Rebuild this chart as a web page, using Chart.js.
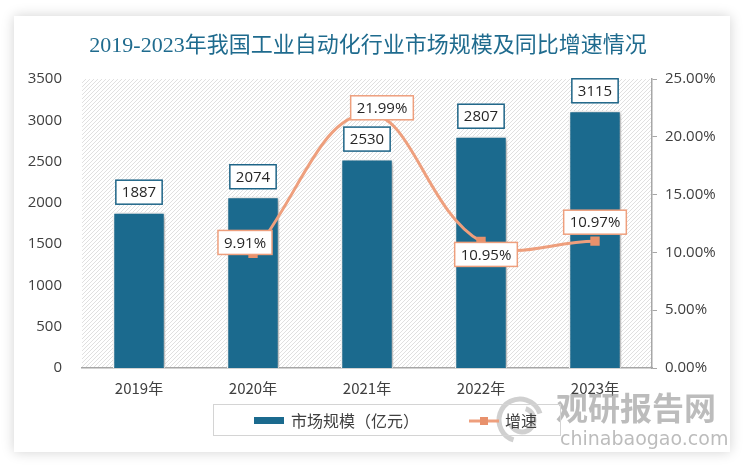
<!DOCTYPE html>
<html>
<head>
<meta charset="utf-8">
<script src="https://cdn.jsdelivr.net/npm/chart.js@4/dist/chart.umd.min.js"></script>
<style>
  html, body { margin: 0; padding: 0; background: #ffffff; }
  #wrap { width: 750px; height: 471px; }
</style>
</head>
<body>
<div id="wrap"><canvas id="c" width="750" height="471"></canvas></div>
<script>
// data
const years = ['2019年', '2020年', '2021年', '2022年', '2023年'];
const marketSize = [1887, 2074, 2530, 2807, 3115];
const growthRate = [null, 9.91, 21.99, 10.95, 10.97];
const leftTicks = [0, 500, 1000, 1500, 2000, 2500, 3000, 3500];
const rightTicks = [0, 5, 10, 15, 20, 25];

const colors = {
    bar: '#1b6a8e',
    barLabel: '#1d6487',
    line: '#ee9f7d',
    marker: '#e8916c',
    title: '#1f6b8e',
    text: '#404040',
    axis: '#a6a6a6',
    hatch: '#e0e0e0'
};

const tickFont = { family: '"Open Sans", "Noto Sans CJK SC", sans-serif', size: 15 };
const cjkFont = '"Noto Sans CJK SC", sans-serif';

// label offsets for the growth boxes (centre relative to point)
const lineLabelOffset = [null, [-8, -11], [15, -6], [5, 13], [0, -19]];

// card + title + hatched plot background + legend + watermark
const decorPlugin = {
    id: 'decor',
    beforeDraw(chart) {
        const ctx = chart.ctx;
        ctx.save();
        ctx.fillStyle = '#ffffff';
        ctx.fillRect(0, 0, chart.width, chart.height);
        ctx.shadowColor = 'rgba(0,0,0,0.18)';
        ctx.shadowBlur = 12;
        ctx.fillRect(14, 16, 716, 436);
        ctx.restore();

        ctx.save();
        ctx.fillStyle = colors.title;
        ctx.font = '22px "Liberation Serif", "Noto Sans CJK SC", serif';
        ctx.textAlign = 'center';
        ctx.textBaseline = 'middle';
        ctx.fillText('2019-2023年我国工业自动化行业市场规模及同比增速情况', 368, 46);
        ctx.restore();

        // diagonal hatch in the plot area
        const a = chart.chartArea;
        ctx.save();
        ctx.beginPath();
        ctx.rect(a.left, a.top, a.right - a.left, a.bottom - a.top);
        ctx.clip();
        ctx.strokeStyle = colors.hatch;
        ctx.lineWidth = 1;
        const h = a.bottom - a.top;
        for (let x = a.left - h; x < a.right; x += 4) {
            ctx.beginPath();
            ctx.moveTo(x, a.bottom);
            ctx.lineTo(x + h, a.top);
            ctx.stroke();
        }
        ctx.restore();
    },
    afterDraw(chart) {
        const ctx = chart.ctx;
        ctx.save();
        // watermark
        ctx.globalAlpha = 0.6;
        ctx.strokeStyle = '#b0b0b0';
        ctx.lineWidth = 5;
        ctx.beginPath();
        ctx.arc(520, 420, 21, Math.PI * 0.6, Math.PI * 1.9);
        ctx.stroke();
        ctx.beginPath();
        ctx.arc(522, 420, 12, Math.PI * 1.6, Math.PI * 0.9);
        ctx.stroke();
        ctx.fillStyle = '#8f8f8f';
        ctx.font = 'bold 32px ' + cjkFont;
        ctx.textBaseline = 'middle';
        ctx.fillText('观研报告网', 556, 408);
        ctx.font = '19px "DejaVu Sans", sans-serif';
        ctx.fillText('chinabaogao.com', 560, 440);
        ctx.restore();

        // legend
        ctx.save();
        ctx.strokeStyle = '#d4d4d4';
        ctx.lineWidth = 1;
        ctx.strokeRect(213.5, 404.5, 347, 31);
        ctx.fillStyle = colors.bar;
        ctx.fillRect(254, 417, 30, 7);
        ctx.fillStyle = colors.text;
        ctx.font = '16px ' + cjkFont;
        ctx.textBaseline = 'middle';
        ctx.fillText('市场规模（亿元）', 291, 421);
        ctx.strokeStyle = colors.line;
        ctx.lineWidth = 3;
        ctx.beginPath();
        ctx.moveTo(469, 421);
        ctx.lineTo(499, 421);
        ctx.stroke();
        ctx.fillStyle = colors.marker;
        ctx.fillRect(480, 417, 8, 8);
        ctx.fillStyle = colors.text;
        ctx.fillText('增速', 505, 421);
        ctx.restore();
    },
    beforeDatasetDraw(chart, args) {
        if (args.index === 0) {
            const ctx = chart.ctx;
            ctx.save();
            ctx.shadowColor = 'rgba(0,0,0,0.35)';
            ctx.shadowBlur = 5;
            ctx.shadowOffsetX = 2;
            ctx.shadowOffsetY = 1;
        }
    },
    afterDatasetDraw(chart, args) {
        if (args.index === 0) chart.ctx.restore();
    },
    afterDatasetsDraw(chart) {
        const ctx = chart.ctx;
        ctx.save();
        ctx.font = '15px "Open Sans", sans-serif';
        ctx.textAlign = 'center';
        ctx.textBaseline = 'middle';
        const box = (cx, cy, text, border) => {
            const w = ctx.measureText(text).width + 12;
            const hh = 24;
            ctx.fillStyle = '#ffffff';
            ctx.fillRect(cx - w / 2, cy - hh / 2, w, hh);
            ctx.strokeStyle = border;
            ctx.lineWidth = 1.5;
            ctx.strokeRect(cx - w / 2, cy - hh / 2, w, hh);
            ctx.fillStyle = '#262626';
            ctx.fillText(text, cx, cy + 1);
        };
        chart.getDatasetMeta(0).data.forEach((el, i) => {
            box(el.x, el.y - 20, String(marketSize[i]), colors.barLabel);
        });
        chart.getDatasetMeta(1).data.forEach((el, i) => {
            if (growthRate[i] === null) return;
            const off = lineLabelOffset[i];
            box(el.x + off[0], el.y + off[1], growthRate[i].toFixed(2) + '%', colors.line);
        });
        ctx.restore();
    }
};

new Chart(document.getElementById('c'), {
    data: {
        labels: years,
        datasets: [
            {
                type: 'bar',
                label: '市场规模（亿元）',
                data: marketSize,
                backgroundColor: colors.bar,
                borderColor: '#ffffff',
                borderWidth: 1.5,
                barPercentage: 0.46,
                categoryPercentage: 1,
                yAxisID: 'y',
                order: 1
            },
            {
                type: 'line',
                label: '增速',
                data: growthRate,
                borderColor: colors.line,
                borderWidth: 3,
                pointStyle: 'rect',
                pointRadius: 4.5,
                pointBackgroundColor: colors.marker,
                pointBorderColor: colors.marker,
                tension: 0.4,
                spanGaps: false,
                yAxisID: 'y1',
                order: 0
            }
        ]
    },
    options: {
        responsive: false,
        animation: false,
        layout: { padding: { left: 14, right: 10, top: 79, bottom: 0 } },
        plugins: {
            legend: { display: false },
            title: { display: false },
            tooltip: { enabled: false }
        },
        scales: {
            x: {
                grid: { display: false },
                border: { display: true, color: colors.axis, width: 1.5 },
                ticks: { color: colors.text, font: { family: cjkFont, size: 15 }, padding: 3 },
                afterFit(s) { s.height = 103; }
            },
            y: {
                position: 'left',
                min: 0,
                max: 3500,
                afterBuildTicks(s) { s.ticks = leftTicks.map(v => ({ value: v })); },
                grid: { display: false },
                border: { display: false },
                ticks: { color: colors.text, font: tickFont, padding: 12, callback: v => String(v) },
                afterFit(s) { s.width = 68; }
            },
            y1: {
                position: 'right',
                min: 0,
                max: 25,
                afterBuildTicks(s) { s.ticks = rightTicks.map(v => ({ value: v })); },
                grid: { drawOnChartArea: false, color: colors.axis, tickLength: 5 },
                border: { display: true, color: colors.axis, width: 1.5 },
                ticks: {
                    color: colors.text,
                    font: tickFont,
                    padding: 8,
                    callback: v => v.toFixed(2) + '%'
                },
                afterFit(s) { s.width = 88; }
            }
        }
    },
    plugins: [decorPlugin]
});
</script>
</body>
</html>
